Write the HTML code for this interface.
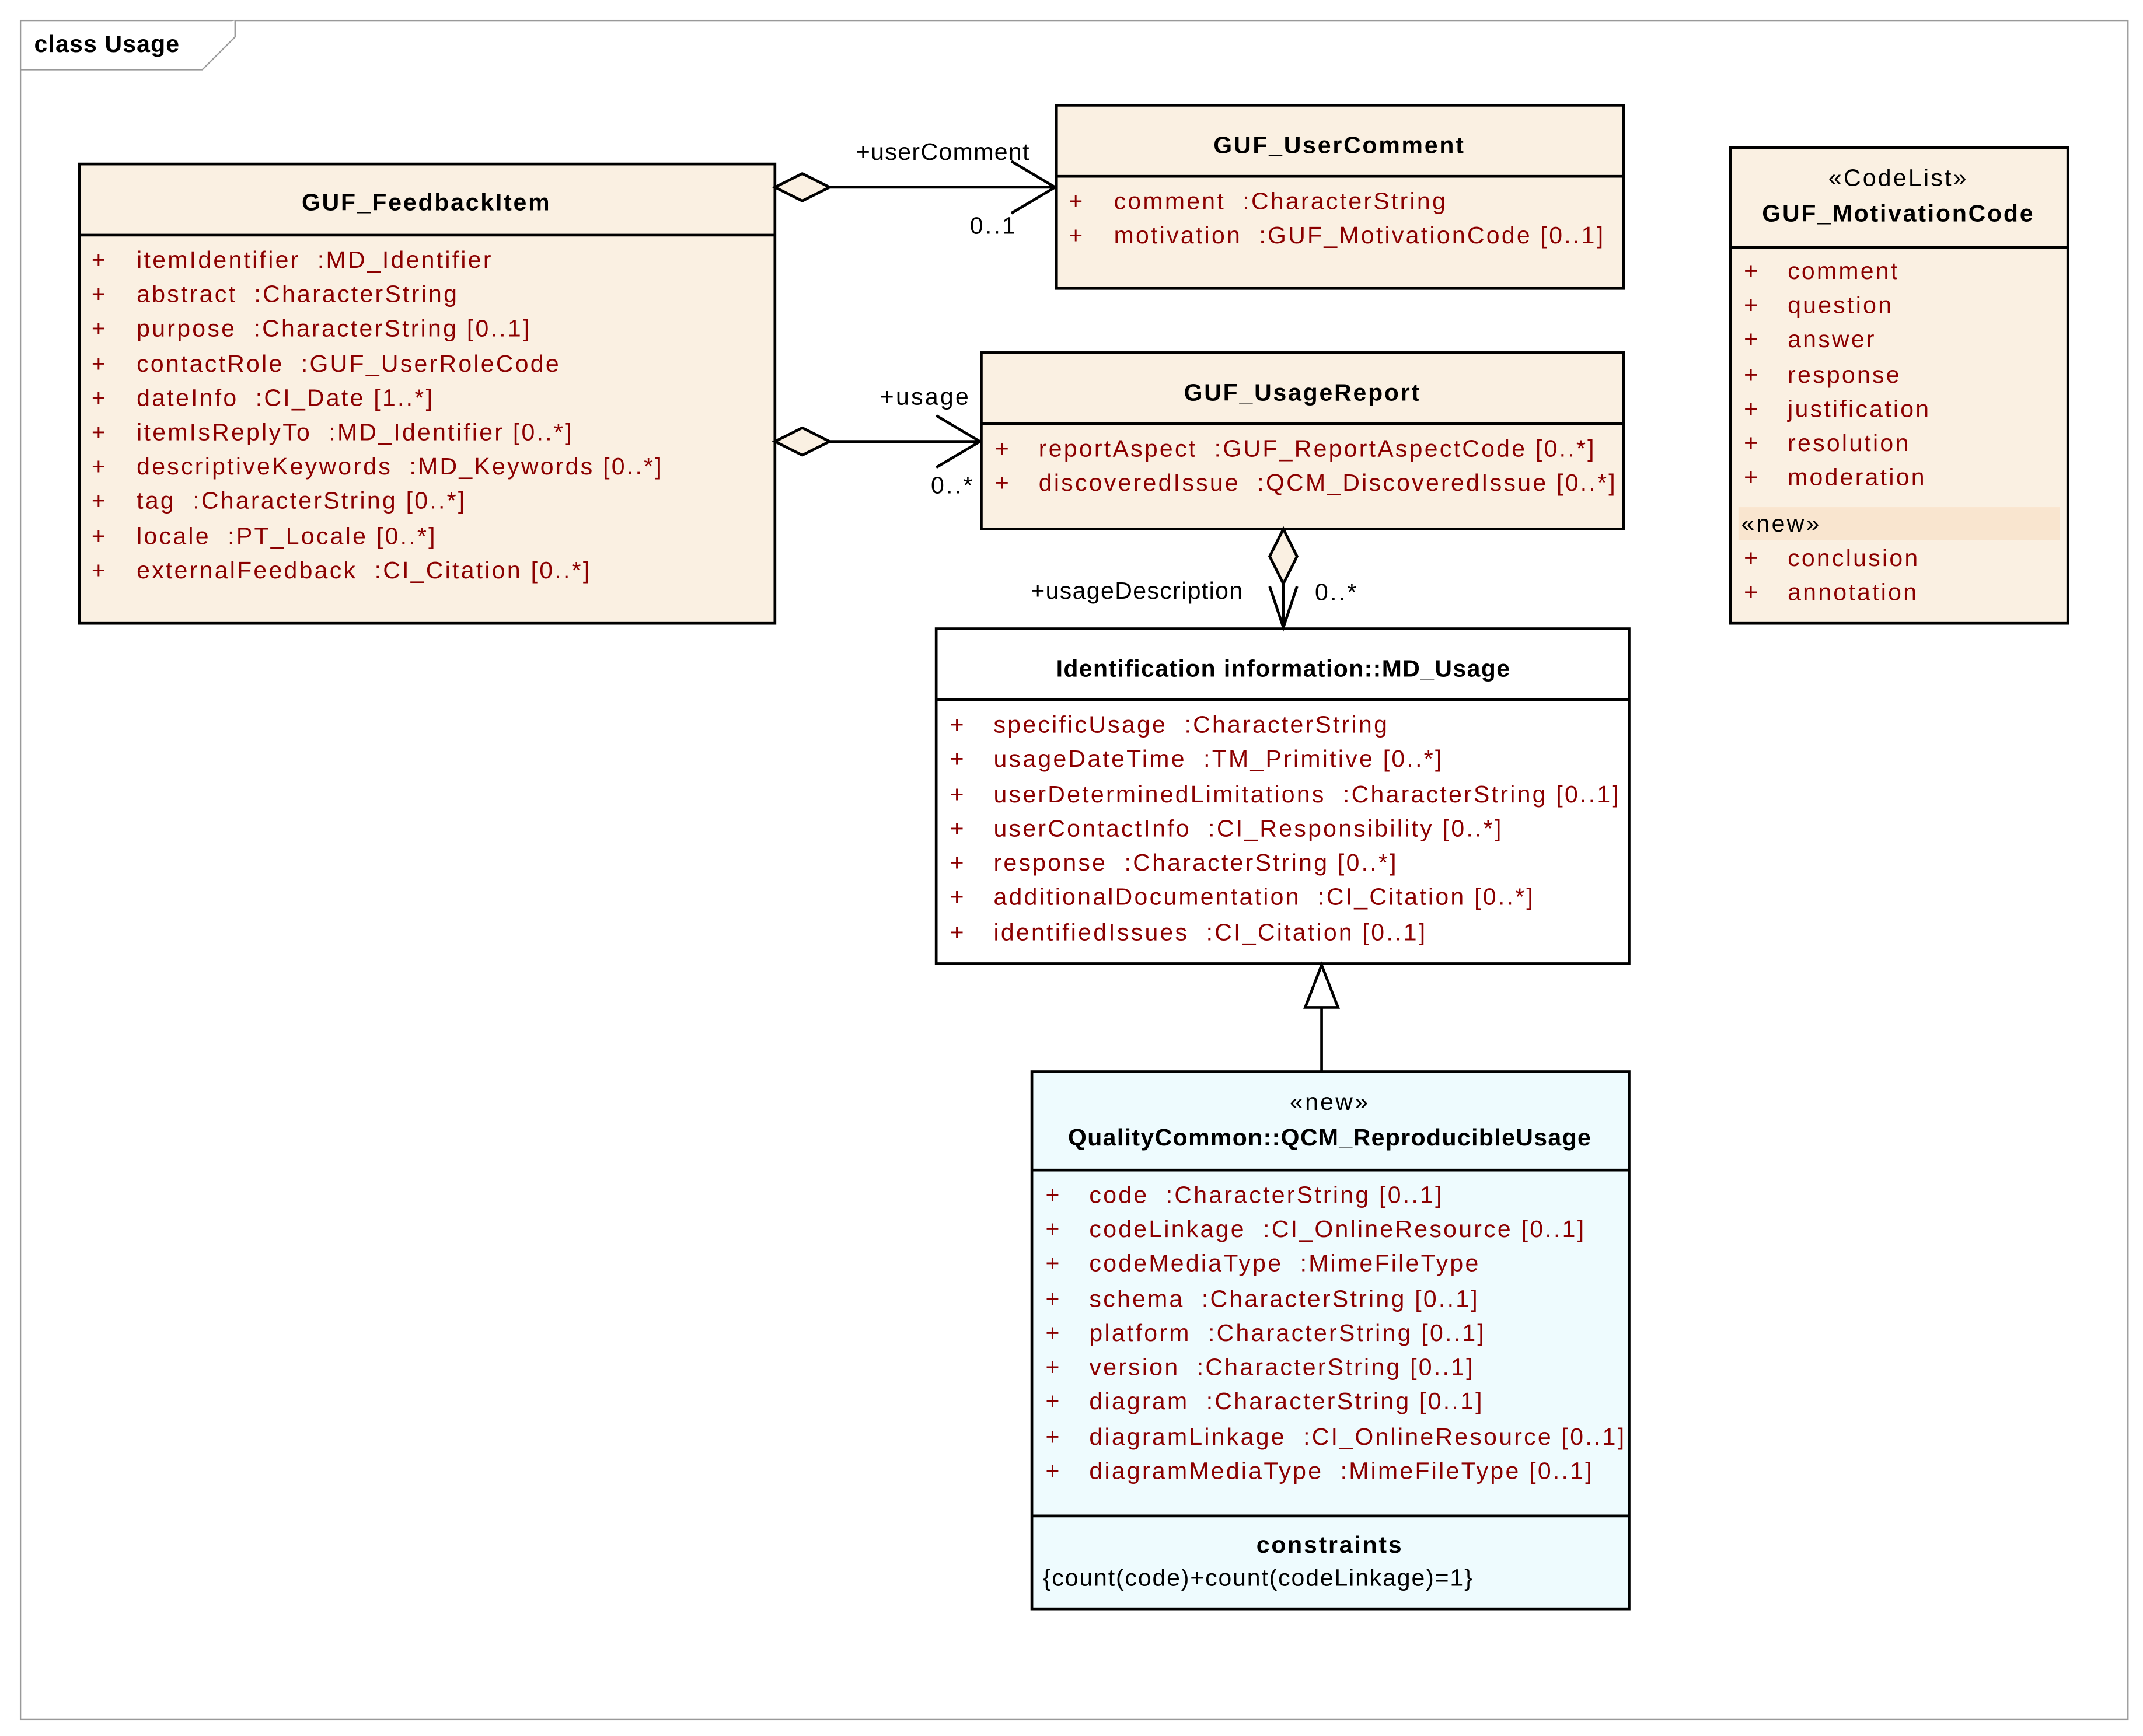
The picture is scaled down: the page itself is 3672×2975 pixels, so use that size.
<!DOCTYPE html>
<html><head><meta charset="utf-8"><style>
html,body{margin:0;padding:0;background:#fff}
svg{display:block}
text{font-family:"Liberation Sans",sans-serif;font-size:17.5px;letter-spacing:1.4px;white-space:pre}
.a{fill:#8b0000}
.b{font-weight:bold;fill:#000;letter-spacing:1.2px}
.k{fill:#000}
.box{fill:#faf0e2;stroke:#000;stroke-width:2}
.ln{stroke:#000;stroke-width:2;fill:none}
</style></head><body>
<svg width="3672" height="2975" viewBox="0 0 1568 1270" preserveAspectRatio="none" xmlns="http://www.w3.org/2000/svg" xml:space="preserve">
<rect x="0" y="0" width="1568" height="1270" fill="#fff"/>
<rect x="15" y="15" width="1542" height="1243" fill="none" stroke="#999" stroke-width="1"/>
<path d="M15 51 H148 L172 27 V15" fill="#fff" stroke="#999" stroke-width="1"/>
<text x="25" y="38" class="b" style="letter-spacing:0.5px">class Usage</text>

<rect class="box" x="58" y="120" width="509" height="336"/>
<line class="ln" x1="58" y1="172" x2="567" y2="172"/>
<text x="312" y="154" text-anchor="middle" class="b">GUF_FeedbackItem</text>
<g class="a">
<text x="67" y="196">+</text><text x="100" y="196">itemIdentifier  :MD_Identifier</text>
<text x="67" y="221">+</text><text x="100" y="221">abstract  :CharacterString</text>
<text x="67" y="246">+</text><text x="100" y="246">purpose  :CharacterString [0..1]</text>
<text x="67" y="272">+</text><text x="100" y="272">contactRole  :GUF_UserRoleCode</text>
<text x="67" y="297">+</text><text x="100" y="297">dateInfo  :CI_Date [1..*]</text>
<text x="67" y="322">+</text><text x="100" y="322">itemIsReplyTo  :MD_Identifier [0..*]</text>
<text x="67" y="347">+</text><text x="100" y="347">descriptiveKeywords  :MD_Keywords [0..*]</text>
<text x="67" y="372">+</text><text x="100" y="372">tag  :CharacterString [0..*]</text>
<text x="67" y="398">+</text><text x="100" y="398">locale  :PT_Locale [0..*]</text>
<text x="67" y="423">+</text><text x="100" y="423">externalFeedback  :CI_Citation [0..*]</text>
</g>

<rect class="box" x="773" y="77" width="415" height="134"/>
<line class="ln" x1="773" y1="129" x2="1188" y2="129"/>
<text x="980" y="112" text-anchor="middle" class="b">GUF_UserComment</text>
<g class="a">
<text x="782" y="153">+</text><text x="815" y="153">comment  :CharacterString</text>
<text x="782" y="178">+</text><text x="815" y="178">motivation  :GUF_MotivationCode [0..1]</text>
</g>

<rect class="box" x="718" y="258" width="470" height="129"/>
<line class="ln" x1="718" y1="310" x2="1188" y2="310"/>
<text x="953" y="293" text-anchor="middle" class="b">GUF_UsageReport</text>
<g class="a">
<text x="728" y="334">+</text><text x="760" y="334">reportAspect  :GUF_ReportAspectCode [0..*]</text>
<text x="728" y="359">+</text><text x="760" y="359">discoveredIssue  :QCM_DiscoveredIssue [0..*]</text>
</g>

<rect class="box" x="1266" y="108" width="247" height="348"/>
<line class="ln" x1="1266" y1="181" x2="1513" y2="181"/>
<text x="1389" y="136" text-anchor="middle" class="k">«CodeList»</text>
<text x="1389" y="162" text-anchor="middle" class="b">GUF_MotivationCode</text>
<g class="a">
<text x="1276" y="204">+</text><text x="1308" y="204">comment</text>
<text x="1276" y="229">+</text><text x="1308" y="229">question</text>
<text x="1276" y="254">+</text><text x="1308" y="254">answer</text>
<text x="1276" y="280">+</text><text x="1308" y="280">response</text>
<text x="1276" y="305">+</text><text x="1308" y="305">justification</text>
<text x="1276" y="330">+</text><text x="1308" y="330">resolution</text>
<text x="1276" y="355">+</text><text x="1308" y="355">moderation</text>
</g>
<rect x="1272" y="371" width="235" height="24" fill="#f9e5cf"/>
<text x="1274" y="389" class="k">«new»</text>
<g class="a">
<text x="1276" y="414">+</text><text x="1308" y="414">conclusion</text>
<text x="1276" y="439">+</text><text x="1308" y="439">annotation</text>
</g>

<rect x="685" y="460" width="507" height="245" fill="#fff" stroke="#000" stroke-width="2"/>
<line class="ln" x1="685" y1="512" x2="1192" y2="512"/>
<text x="939" y="495" text-anchor="middle" class="b" style="letter-spacing:0.6px">Identification information::MD_Usage</text>
<g class="a">
<text x="695" y="536">+</text><text x="727" y="536">specificUsage  :CharacterString</text>
<text x="695" y="561">+</text><text x="727" y="561">usageDateTime  :TM_Primitive [0..*]</text>
<text x="695" y="587">+</text><text x="727" y="587">userDeterminedLimitations  :CharacterString [0..1]</text>
<text x="695" y="612">+</text><text x="727" y="612">userContactInfo  :CI_Responsibility [0..*]</text>
<text x="695" y="637">+</text><text x="727" y="637">response  :CharacterString [0..*]</text>
<text x="695" y="662">+</text><text x="727" y="662">additionalDocumentation  :CI_Citation [0..*]</text>
<text x="695" y="688">+</text><text x="727" y="688">identifiedIssues  :CI_Citation [0..1]</text>
</g>

<rect x="755" y="784" width="437" height="393" fill="#eefbfe" stroke="#000" stroke-width="2"/>
<line class="ln" x1="755" y1="856" x2="1192" y2="856"/>
<line class="ln" x1="755" y1="1109" x2="1192" y2="1109"/>
<text x="973" y="812" text-anchor="middle" class="k">«new»</text>
<text x="973" y="838" text-anchor="middle" class="b" style="letter-spacing:0.6px">QualityCommon::QCM_ReproducibleUsage</text>
<g class="a">
<text x="765" y="880">+</text><text x="797" y="880">code  :CharacterString [0..1]</text>
<text x="765" y="905">+</text><text x="797" y="905">codeLinkage  :CI_OnlineResource [0..1]</text>
<text x="765" y="930">+</text><text x="797" y="930">codeMediaType  :MimeFileType</text>
<text x="765" y="956">+</text><text x="797" y="956">schema  :CharacterString [0..1]</text>
<text x="765" y="981">+</text><text x="797" y="981">platform  :CharacterString [0..1]</text>
<text x="765" y="1006">+</text><text x="797" y="1006">version  :CharacterString [0..1]</text>
<text x="765" y="1031">+</text><text x="797" y="1031">diagram  :CharacterString [0..1]</text>
<text x="765" y="1057">+</text><text x="797" y="1057">diagramLinkage  :CI_OnlineResource [0..1]</text>
<text x="765" y="1082">+</text><text x="797" y="1082">diagramMediaType  :MimeFileType [0..1]</text>
</g>
<text x="973" y="1136" text-anchor="middle" class="b">constraints</text>
<text x="763" y="1160" class="k" style="letter-spacing:0.8px">{count(code)+count(codeLinkage)=1}</text>

<line class="ln" x1="607" y1="137" x2="772" y2="137"/>
<path d="M567 137 L587 127 L607 137 L587 147 Z" fill="#faf0e2" stroke="#000" stroke-width="2"/>
<path class="ln" d="M740 118 L772 137 L740 156"/>
<text x="690" y="117" text-anchor="middle" class="k" style="letter-spacing:0.6px">+userComment</text>
<text x="727" y="171" text-anchor="middle" class="k">0..1</text>

<line class="ln" x1="607" y1="323" x2="717" y2="323"/>
<path d="M567 323 L587 313 L607 323 L587 333 Z" fill="#faf0e2" stroke="#000" stroke-width="2"/>
<path class="ln" d="M685 304 L717 323 L685 342"/>
<text x="677" y="296" text-anchor="middle" class="k">+usage</text>
<text x="697" y="361" text-anchor="middle" class="k">0..*</text>

<line class="ln" x1="939" y1="427" x2="939" y2="459"/>
<path d="M939 387 L949 407 L939 427 L929 407 Z" fill="#faf0e2" stroke="#000" stroke-width="2"/>
<path class="ln" d="M929 429 L939 459 L949 429"/>
<text x="832" y="438" text-anchor="middle" class="k" style="letter-spacing:0.6px">+usageDescription</text>
<text x="978" y="439" text-anchor="middle" class="k">0..*</text>

<line class="ln" x1="967" y1="737" x2="967" y2="784"/>
<path d="M967 706 L979 737 L955 737 Z" fill="#fff" stroke="#000" stroke-width="2"/>
</svg>
</body></html>
